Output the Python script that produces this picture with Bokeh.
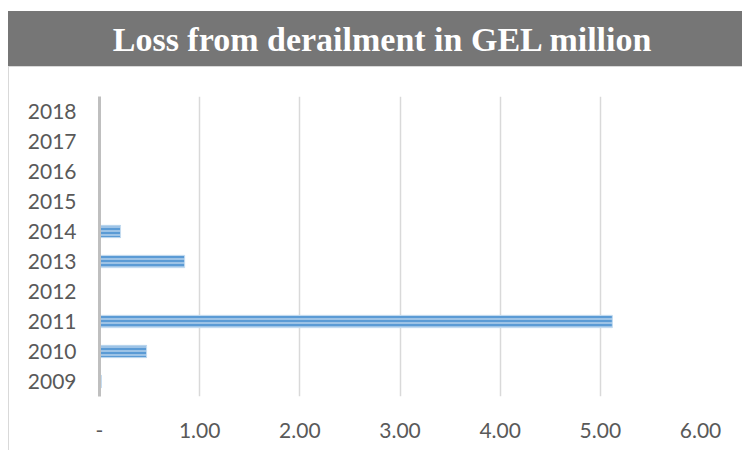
from bokeh.plotting import figure
from bokeh.layouts import column
from bokeh.models import FixedTicker
from bokeh.core.properties import value
from bokeh.embed import file_html
from bokeh.resources import INLINE

# Loss from derailment, GEL million, by year
years = ["2009", "2010", "2011", "2012", "2013", "2014", "2015", "2016", "2017", "2018"]
loss = [0.02, 0.47, 5.12, 0.0, 0.85, 0.21, 0.0, 0.0, 0.0, 0.0]
x_ticks = [0, 1, 2, 3, 4, 5, 6]
x_tick_labels = ["-", "1.00", "2.00", "3.00", "4.00", "5.00", "6.00"]
title_text = "Loss from derailment in GEL million"

BORDER_L, BORDER_R = 91, 42   # shared by both panels so their frames line up

# --- title banner (pixel coordinates inside its frame) ------------------
head = figure(
    title=None,
    width=734, height=55, x_range=(0, 601), y_range=(0, 55),
    x_axis_type=None, y_axis_type=None,
    output_backend="svg", toolbar_location=None,
    min_border_left=BORDER_L, min_border_right=BORDER_R,
    min_border_top=0, min_border_bottom=0,
    background_fill_alpha=0, border_fill_alpha=0,
)
head.margin = (11, 0, 0, 8)
head.styles = {"background-color": "#767676"}
head.outline_line_color = None
head.grid.visible = False
head.text(x=[283.5], y=[27.5], text=[title_text],
          text_align="center", text_baseline="middle",
          text_color="white", text_font=value("Liberation Serif"),
          text_font_style="bold", text_font_size="34px")

# --- bar chart ----------------------------------------------------------
p = figure(
    width=734, height=384,
    y_range=years, x_range=(0, 6),
    output_backend="svg", toolbar_location=None,
    min_border_left=BORDER_L, min_border_right=BORDER_R,
    min_border_top=30, min_border_bottom=54,
    background_fill_color="white", border_fill_alpha=0,
)
p.margin = (0, 0, 0, 8)
p.styles = {"background-color": "white",
            "box-shadow": "inset 1px 1px 0 #d9d9d9"}
p.outline_line_color = None

p.hbar(y=years, right=loss, left=0, height=0.41,
       fill_color="#9dc3e6", line_color="#c5dcf0", line_width=1,
       hatch_pattern="-", hatch_color="#5b9bd5", hatch_scale=4, hatch_weight=2)

p.xgrid.ticker = FixedTicker(ticks=x_ticks)
p.xgrid.grid_line_color = "#d9d9d9"
p.xgrid.grid_line_width = 1.5
p.ygrid.grid_line_color = None

p.xaxis.ticker = FixedTicker(ticks=x_ticks)
p.xaxis.major_label_overrides = {t: s for t, s in zip(x_ticks, x_tick_labels)}
p.xaxis.axis_line_color = None
p.xaxis.major_tick_line_color = None
p.xaxis.minor_tick_line_color = None
p.xaxis.major_label_standoff = 20
p.xaxis.major_label_text_font = "Lato"
p.xaxis.major_label_text_font_size = "21px"
p.xaxis.major_label_text_color = "#595959"

p.yaxis.axis_line_color = "#bfbfbf"
p.yaxis.axis_line_width = 3
p.yaxis.major_tick_line_color = None
p.yaxis.minor_tick_line_color = None
p.yaxis.major_label_standoff = 17
p.yaxis.major_label_text_font = "Lato"
p.yaxis.major_label_text_font_size = "21px"
p.yaxis.major_label_text_color = "#595959"

layout = column(head, p, spacing=0)
open("out.html", "w").write(file_html(layout, INLINE))
